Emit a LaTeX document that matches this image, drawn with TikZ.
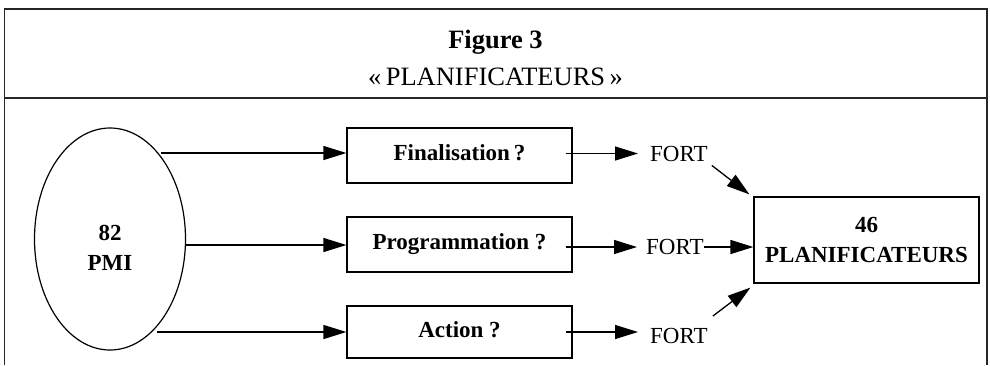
\documentclass[tikz,border=0pt]{standalone}
\usepackage{fontspec}
\setmainfont{Liberation Serif}
\usetikzlibrary{arrows.meta,shapes.geometric}
\begin{document}
\begin{tikzpicture}[x=1pt,y=-1pt,
  frame/.style={draw=black!85,line width=1.6pt},
  arr/.style={line width=1.3pt,-{Triangle[length=23pt,width=14pt]}},
  qbox/.style={draw,line width=1.2pt,minimum width=225pt,inner sep=0pt,
    text height=16pt,text depth=5.5pt,font=\fontsize{23}{29}\selectfont\bfseries},
  fort/.style={inner sep=0pt,anchor=west,font=\fontsize{23}{29}\selectfont},
  bigtxt/.style={align=center,inner sep=0pt,font=\fontsize{23}{29.5}\selectfont\bfseries}]
\useasboundingbox (0,0) rectangle (990,365);
% frame
\draw[frame] (4.5,365) -- (4.5,9) -- (987,9) -- (987,365);
\draw[frame] (4.5,98) -- (987,98);
\node[anchor=base,inner sep=0pt,font=\fontsize{26.5}{30}\selectfont\bfseries] (ttl) at (495.5,48) {Figure 3};
\node[anchor=base,inner sep=0pt,font=\fontsize{26.5}{30}\selectfont] (sub) at (495.5,85) {«\,PLANIFICATEURS\,»};
% ellipse
\node[draw,ellipse,line width=1.2pt,minimum width=151pt,minimum height=222pt,inner sep=0pt] (pmi) at (110,239) {};
\node[bigtxt] (pmitxt) at (110,248) {82\\PMI};
% question boxes
\node[qbox,minimum height=55pt] (fin) at (459.5,155.5) {Finalisation\,?};
\node[qbox,minimum height=55pt] (prog) at (459.5,244.5) {Programmation ?};
\node[qbox,minimum height=52pt] (act) at (459.5,332) {Action ?};
% result box
\node[draw,line width=1.2pt,minimum width=225pt,minimum height=86pt,bigtxt] (plan) at (866.5,240) {46\\PLANIFICATEURS};
% FORT labels
\node[fort] (f1) at (650,153.5) {FORT};
\node[fort] (f2) at (646,247) {FORT};
\node[fort] (f3) at (650,336) {FORT};
% arrows from ellipse
\coordinate (s1) at (161,153);
\coordinate (s2) at (185,245);
\coordinate (s3) at (157,332);
\draw[arr] (s1) -- (s1 -| fin.west);
\draw[arr] (s2) -- (s2 -| prog.west);
\draw[arr] (s3) -- (s3 -| act.west);
% arrows from boxes to FORT
\draw[arr] ([xshift=-7pt]fin.east |- f1.west) -- ([xshift=-12pt]f1.west);
\draw[arr] ([xshift=-7pt]prog.east |- f2.west) -- ([xshift=-9pt]f2.west);
\draw[arr] ([xshift=-7pt]act.east |- 0,332) -- ([xshift=-12pt]f3.west |- 0,332);
% arrows FORT to planificateurs
\draw[arr] ([shift={(4,4)}]f1.south east) -- ([shift={(-4,-2)}]plan.north west);
\draw[arr] (f2.east) -- (f2.east -| plan.west);
\draw[arr] ([shift={(5,-12)}]f3.north east) -- ([shift={(-3,4)}]plan.south west);
\end{tikzpicture}
\end{document}
